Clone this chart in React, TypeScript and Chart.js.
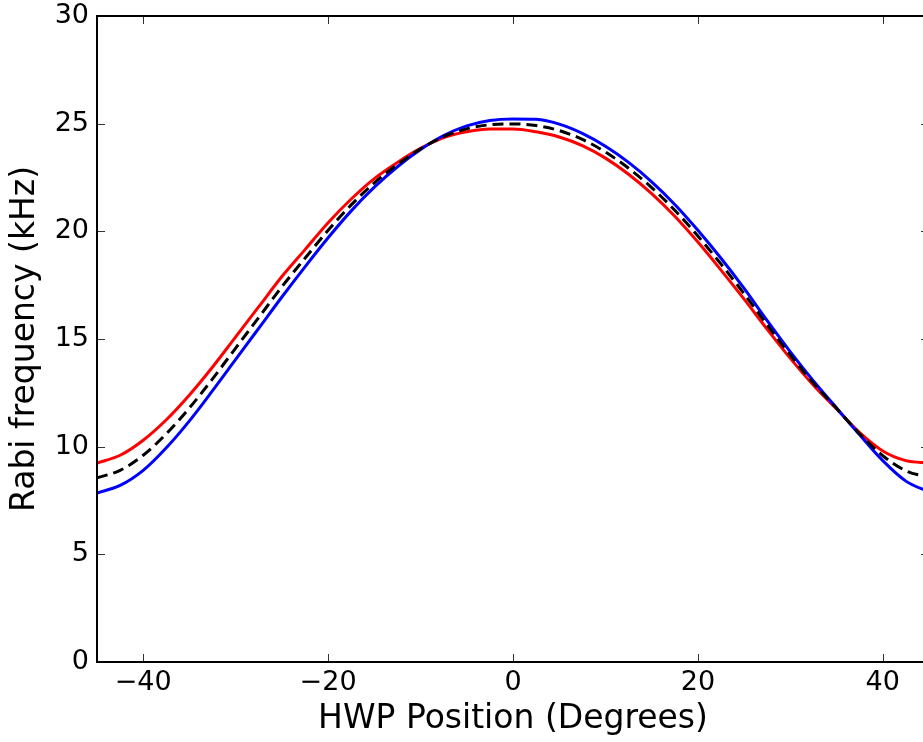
import React, { useEffect, useRef } from 'react';
import { Chart, registerables } from 'chart.js';

Chart.register(...registerables);

const hwpAngles = [-45, -42.5, -40, -37.5, -35, -32.5, -30, -27.5, -25, -22.5, -20, -17.5, -15, -12.5, -10, -7.5, -5, -2.5, 0, 2.5, 5, 7.5, 10, 12.5, 15, 17.5, 20, 22.5, 25, 27.5, 30, 32.5, 35, 37.5, 40, 42.5, 45];

const rabiBlue = [7.85, 8.2, 8.9, 9.95, 11.2, 12.6, 14.05, 15.5, 16.95, 18.35, 19.7, 20.95, 22.05, 23.0, 23.8, 24.45, 24.9, 25.15, 25.22, 25.2, 24.98, 24.55, 23.95, 23.2, 22.3, 21.25, 20.05, 18.75, 17.35, 15.85, 14.4, 13.05, 11.8, 10.55, 9.35, 8.4, 7.9];

const rabiRed = [9.24, 9.6, 10.3, 11.25, 12.4, 13.7, 15.1, 16.5, 17.9, 19.15, 20.4, 21.5, 22.45, 23.2, 23.85, 24.35, 24.62, 24.75, 24.75, 24.62, 24.38, 23.98, 23.4, 22.65, 21.75, 20.7, 19.5, 18.2, 16.85, 15.45, 14.1, 12.85, 11.75, 10.65, 9.8, 9.35, 9.24];

const rabiMean = [8.55, 8.9, 9.6, 10.6, 11.8, 13.15, 14.58, 16.0, 17.43, 18.75, 20.05, 21.23, 22.25, 23.1, 23.83, 24.4, 24.76, 24.95, 24.99, 24.91, 24.68, 24.27, 23.68, 22.93, 22.03, 20.98, 19.78, 18.48, 17.1, 15.65, 14.25, 12.95, 11.78, 10.6, 9.58, 8.88, 8.57];

const xTickValues = [-40, -20, 0, 20, 40];
const yTickValues = [0, 5, 10, 15, 20, 25, 30];
const xAxisTitle = 'HWP Position (Degrees)';
const yAxisTitle = 'Rabi frequency (kHz)';

const FONT = 'DejaVu Sans';

const toPoints = (ys: number[]) => hwpAngles.map((x, i) => ({ x, y: ys[i] }));

const frameAndTicks = {
  id: 'frameAndTicks',
  afterDraw(chart: any) {
    const { ctx, chartArea } = chart;
    const xs = chart.scales.x;
    const ys = chart.scales.y;
    const { left, right, top, bottom } = chartArea;
    ctx.save();
    ctx.strokeStyle = '#333';
    ctx.lineWidth = 1;
    const len = 8;
    ctx.beginPath();
    xTickValues.forEach((v) => {
      const px = Math.round(xs.getPixelForValue(v)) + 0.5;
      ctx.moveTo(px, bottom);
      ctx.lineTo(px, bottom - len);
      ctx.moveTo(px, top);
      ctx.lineTo(px, top + len);
    });
    yTickValues.forEach((v) => {
      const py = Math.round(ys.getPixelForValue(v)) + 0.5;
      ctx.moveTo(left, py);
      ctx.lineTo(left + len, py);
      ctx.moveTo(right, py);
      ctx.lineTo(right - len, py);
    });
    ctx.stroke();
    ctx.strokeStyle = '#000';
    ctx.lineWidth = 2;
    ctx.strokeRect(left, top, right - left, bottom - top);
    ctx.restore();
  },
};

export default function App() {
  const canvasRef = useRef<HTMLCanvasElement | null>(null);

  useEffect(() => {
    if (!canvasRef.current) return;
    const lineBase = {
      borderWidth: 3,
      pointRadius: 0,
      fill: false,
      cubicInterpolationMode: 'monotone' as const,
    };
    const chart = new Chart(canvasRef.current, {
      type: 'line',
      data: {
        datasets: [
          { ...lineBase, label: 'mean', data: toPoints(rabiMean), borderColor: '#000000', borderDash: [11, 6], order: 0 },
          { ...lineBase, label: 'blue', data: toPoints(rabiBlue), borderColor: '#0000ff', order: 1 },
          { ...lineBase, label: 'red', data: toPoints(rabiRed), borderColor: '#ff0000', order: 2 },
        ],
      },
      options: {
        animation: false,
        responsive: false,
        devicePixelRatio: 1,
        layout: { padding: { top: 16, right: 31, left: 0, bottom: 0 } },
        plugins: {
          legend: { display: false },
          tooltip: { enabled: false },
        },
        scales: {
          x: {
            type: 'linear',
            min: -45,
            max: 45,
            grid: { display: false, drawTicks: false },
            border: { display: false },
            afterBuildTicks: (scale: any) => {
              scale.ticks = xTickValues.map((value) => ({ value }));
            },
            afterFit: (scale: any) => {
              scale.height = 80;
              scale.paddingLeft = 0;
              scale.paddingRight = 0;
            },
            ticks: {
              padding: 5,
              color: '#000',
              font: { family: FONT, size: 27 },
              maxRotation: 0,
              callback: (v: any) => (v < 0 ? '\u2212' + Math.abs(v) : String(v)),
            },
            title: {
              display: true,
              text: xAxisTitle,
              color: '#000',
              font: { family: FONT, size: 33 },
              padding: { top: 0, bottom: 3 },
            },
          },
          y: {
            type: 'linear',
            min: 0,
            max: 30,
            grid: { display: false, drawTicks: false },
            border: { display: false },
            afterBuildTicks: (scale: any) => {
              scale.ticks = yTickValues.map((value) => ({ value }));
            },
            afterFit: (scale: any) => {
              scale.width = 97;
              scale.paddingTop = 0;
              scale.paddingBottom = 0;
            },
            ticks: {
              padding: 8,
              color: '#000',
              font: { family: FONT, size: 27 },
              callback: (v: any) => String(v),
            },
            title: {
              display: true,
              text: yAxisTitle,
              color: '#000',
              font: { family: FONT, size: 33 },
              padding: { top: 6, bottom: 0 },
            },
          },
        },
      },
      plugins: [frameAndTicks],
    });
    return () => chart.destroy();
  }, []);

  return (
    <div style={{ position: 'fixed', left: 0, top: 0, width: 923, height: 742, overflow: 'hidden', background: '#fff' }}>
      <div style={{ width: 960, height: 742 }}>
        <canvas ref={canvasRef} width={960} height={742} style={{ display: 'block' }} />
      </div>
    </div>
  );
}
